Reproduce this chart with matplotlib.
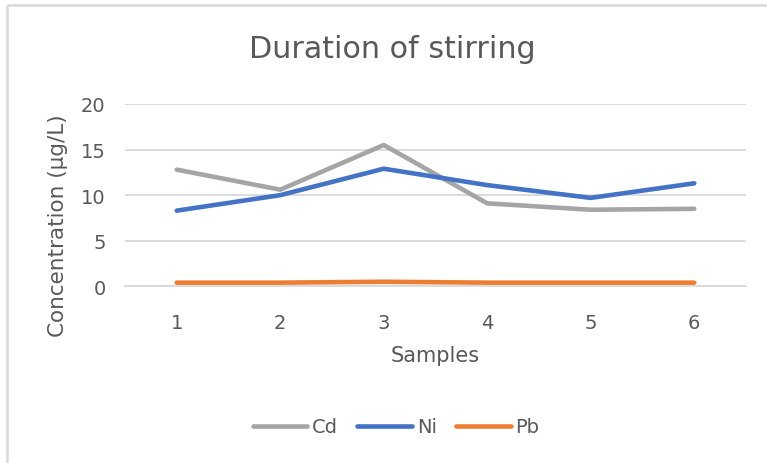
import numpy as np
import matplotlib as mpl
mpl.use('Agg')
import matplotlib.pyplot as plt
from matplotlib.lines import Line2D

mpl.rcParams['font.family'] = ['DejaVu Sans']

samples = [1, 2, 3, 4, 5, 6]
cd = [12.8, 10.6, 15.5, 9.1, 8.4, 8.5]
ni = [8.3, 10.0, 12.9, 11.1, 9.7, 11.3]
pb = [0.4, 0.4, 0.5, 0.4, 0.4, 0.4]

grey_txt = '#595959'
grid_c = '#d9d9d9'

W, H = 767, 464
fig = plt.figure(figsize=(W / 100, H / 100), dpi=100)
ax = fig.add_axes([125 / W, 1 - 287.3 / H, 621 / W, 182.3 / H])

ax.plot(samples, cd, color='#a5a5a5', lw=3.3, solid_capstyle='round', solid_joinstyle='round', label='Cd')
ax.plot(samples, ni, color='#4472c4', lw=3.3, solid_capstyle='round', solid_joinstyle='round', label='Ni')
ax.plot(samples, pb, color='#ed7d31', lw=3.3, solid_capstyle='round', solid_joinstyle='round', label='Pb')

ax.set_xlim(0.5, 6.5)
ax.set_ylim(0, 20)
ax.set_yticks([0, 5, 10, 15, 20])
ax.set_xticks(samples)
ax.grid(axis='y', color=grid_c, lw=1.3)
ax.set_axisbelow(True)
for s in ['top', 'right', 'left']:
    ax.spines[s].set_visible(False)
ax.spines['bottom'].set_color(grid_c)
ax.spines['bottom'].set_linewidth(1.3)
ax.tick_params(length=0, labelsize=14, colors=grey_txt)
ax.tick_params(axis='y', pad=14)
ax.tick_params(axis='x', pad=19)

fig.text(392 / W, 1 - 50 / H, 'Duration of stirring', ha='center', va='center',
         fontsize=21.7, color=grey_txt)
fig.text(435.5 / W, 1 - 356 / H, 'Samples', ha='center', va='center',
         fontsize=15, color=grey_txt)
fig.text(58 / W, 1 - 226 / H, 'Concentration (µg/L)', ha='center', va='center',
         rotation=90, fontsize=15.5, color=grey_txt)

fig.legend(loc='center', bbox_to_anchor=(396 / W, 1 - 428 / H), ncol=3, frameon=False,
           fontsize=14, labelcolor=grey_txt, handlelength=2.8, handletextpad=0.25,
           columnspacing=1.0)

# chart area border (only left and top edges are visible)
fig.add_artist(Line2D([7 / W, 7 / W], [0, 1 - 6 / H], color=grid_c, lw=1.8,
                      solid_capstyle='butt'))
fig.add_artist(Line2D([7 / W, 1], [1 - 6 / H, 1 - 6 / H], color=grid_c, lw=1.8,
                      solid_capstyle='butt'))

plt.savefig('out.png', dpi=100)
